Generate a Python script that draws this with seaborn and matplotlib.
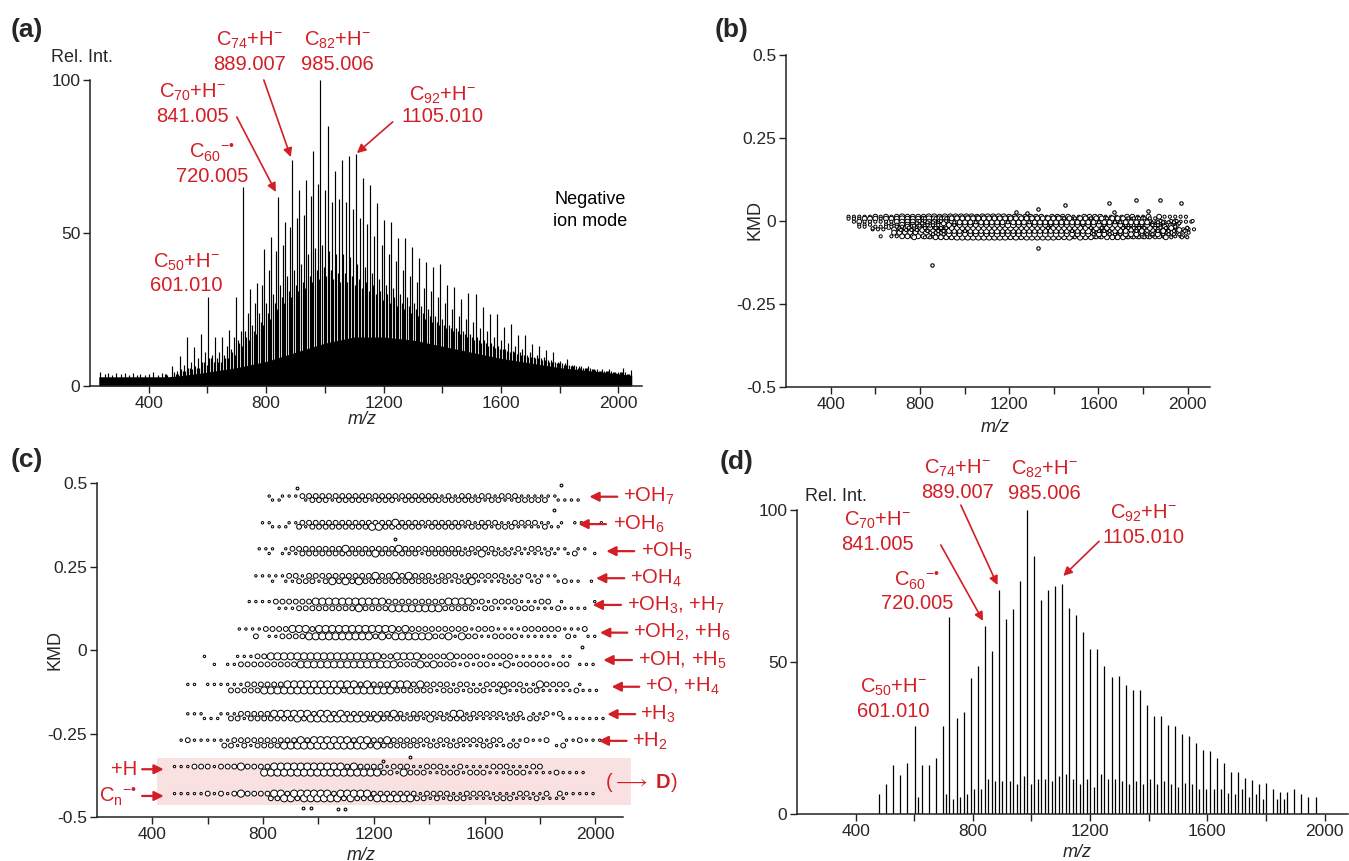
import matplotlib
matplotlib.use("Agg")
import matplotlib.pyplot as plt
from matplotlib.patches import Rectangle
import pandas as pd
import seaborn as sns

RED = "#d21f26"

# ---------------- spectrum (a) / (d) -----------------
# C_n+H- (and C60 radical at 720) peak positions, m/z
cn_mz = [457, 481, 505, 529, 553, 577, 601, 625, 649, 673, 697, 720, 745, 769, 793,
         817, 841, 865, 889, 913, 937, 961, 985, 1009, 1033, 1057, 1081, 1105, 1129,
         1153, 1177, 1201, 1225, 1249, 1273, 1297, 1321, 1345, 1369, 1393, 1417, 1441,
         1465, 1489, 1513, 1537, 1561, 1585, 1609, 1633, 1657, 1681, 1705, 1729, 1753,
         1777, 1801, 1825, 1849, 1873, 1897, 1921, 1945, 1969, 1993, 2017, 2041]
a_main_int = [4, 6.6, 9.9, 16, 12.8, 16.9, 29, 16, 16, 18.4, 29, 64.9, 31.6, 33.7, 44.8,
              48.8, 61.8, 53.7, 73.7, 64, 67.3, 76.8, 100, 84.9, 70.4, 73.7, 75, 75.8, 67.9,
              65.6, 59.7, 54.2, 53.5, 48.5, 48.5, 45.5, 41.7, 40.6, 39, 40, 32.9, 32.5,
              28.3, 30.3, 30, 25.7, 23.4, 23.4, 19.4, 20.1, 16.8, 16.8, 13.6, 13.2, 11.6,
              11, 8.3, 8.7, 7, 6.5, 6.5, 5.2, 5.7, 5.7, 4.1, 5.8, 5.2]

# oxygenated / hydrogenated neighbours in the full spectrum (a)
a_oxy_mz = [473, 497, 521, 545, 569, 593, 617, 641, 665, 689, 713, 737, 761, 785, 809,
            833, 857, 881, 905, 929, 953, 977, 1001, 1025, 1049, 1073, 1097, 1121, 1145,
            1169, 1193, 1217, 1241, 1265, 1289, 1313, 1337, 1361, 1385, 1409, 1433, 1457,
            1481, 1505, 1529, 1553, 1577, 1601, 1625, 1649, 1673, 1697, 1721, 1745, 1769,
            1793, 1817, 1841, 1865, 1889, 1913, 1937, 1961, 1985, 2009, 2033]
a_oxy_int = [3, 5, 7, 8, 9, 11, 10, 11, 13, 16, 18, 24, 27, 33, 38, 44, 46, 52, 55, 56,
             62, 66, 64, 60, 61, 60, 58, 55, 53, 49, 46, 43, 41, 38, 36, 34, 32, 31, 29, 27,
             25, 23, 22, 21, 19, 18, 16, 15, 14, 13, 12, 11, 10, 9.5, 8.5, 8, 7.5, 7, 6.5,
             6, 5.5, 5, 5, 4.5, 4.5, 4]
a_mid_mz = [469, 493, 517, 541, 565, 589, 613, 637, 661, 685, 709, 733, 757, 781, 805,
            829, 853, 877, 901, 925, 949, 973, 997, 1021, 1045, 1069, 1093, 1117, 1141,
            1165, 1189, 1213, 1237, 1261, 1285, 1309, 1333, 1357, 1381, 1405, 1429, 1453,
            1477, 1501, 1525, 1549, 1573, 1597, 1621, 1645, 1669, 1693, 1717, 1741, 1765,
            1789, 1813, 1837, 1861, 1885, 1909, 1933, 1957, 1981, 2005, 2029]
a_mid_int = [3, 4, 5, 6, 6, 8, 9, 8, 9, 11, 14, 16, 18, 21, 24, 27, 29, 31, 33, 34,
             36, 38, 39, 38, 37, 37, 36, 35, 34, 33, 31, 30, 29, 27, 26, 25, 24, 23, 21, 20,
             19, 18, 17, 16, 15, 14, 13, 12, 11.5, 11, 10, 9.5, 9, 8.5, 8, 7.5, 7, 6.5, 6,
             6, 5.5, 5, 5, 4.5, 4.5, 4]
a_h_mz = [463, 487, 511, 535, 559, 583, 607, 631, 655, 679, 703, 727, 751, 775, 799,
          823, 847, 871, 895, 919, 943, 967, 991, 1015, 1039, 1063, 1087, 1111, 1135,
          1159, 1183, 1207, 1231, 1255, 1279, 1303, 1327, 1351, 1375, 1399, 1423, 1447,
          1471, 1495, 1519, 1543, 1567, 1591, 1615, 1639, 1663, 1687, 1711, 1735, 1759,
          1783, 1807, 1831, 1855, 1879, 1903, 1927, 1951, 1975, 1999, 2023]
a_h_int = [3.5, 4.5, 5.5, 6, 6.5, 8, 9, 9, 10, 12, 15, 18, 20, 24, 27, 30, 33, 36, 38, 40,
           43, 45, 46, 44, 43, 43, 42, 40, 39, 37, 35, 33, 32, 30, 29, 27, 26, 25, 23, 22,
           20, 19, 18, 17, 16, 15, 14, 13, 12, 11.5, 11, 10, 9.5, 9, 8.5, 8, 7.5, 7, 6.5,
           6, 6, 5.5, 5, 5, 4.5, 4.5]
a_x_mz = [477, 501, 525, 549, 573, 597, 621, 645, 669, 693, 717, 741, 765, 789, 813,
          837, 861, 885, 909, 933, 957, 981, 1005, 1029, 1053, 1077, 1101, 1125, 1149,
          1173, 1197, 1221, 1245, 1269, 1293, 1317, 1341, 1365, 1389, 1413, 1437, 1461,
          1485, 1509, 1533, 1557, 1581, 1605, 1629, 1653, 1677, 1701, 1725, 1749, 1773,
          1797, 1821, 1845, 1869, 1893, 1917, 1941, 1965, 1989, 2013, 2037]
a_x_int = [3, 4, 5, 5.5, 6, 7, 8, 8, 9, 10, 13, 15, 17, 20, 22, 25, 27, 29, 31, 32,
           34, 35, 36, 35, 34, 34, 33, 32, 31, 30, 28, 27, 26, 25, 24, 23, 22, 21, 20, 19,
           18, 17, 16, 15, 14, 13, 12.5, 12, 11, 10.5, 10, 9.5, 9, 8.5, 8, 7.5, 7, 6.5, 6,
           6, 5.5, 5, 5, 4.5, 4.5, 4]
# low-mass noise spikes
a_noise_mz = [233, 250, 262, 275, 290, 305, 318, 332, 345, 360, 372, 388, 400, 415, 430,
              445, 458]
a_noise_int = [4.5, 3.8, 4.2, 3.6, 4.4, 3.9, 4.1, 3.7, 4.3, 3.6, 4.0, 3.5, 3.8, 4.6, 3.7,
               4.2, 3.9]
# dense unresolved background (envelope)
a_bg_mz = [230, 300, 400, 470, 520, 600, 700, 800, 900, 1000, 1100, 1200, 1300, 1400,
           1500, 1600, 1700, 1800, 1900, 2000, 2045]
a_bg_int = [3, 3, 3, 3, 3.5, 4.5, 6, 8, 11, 14, 16, 16, 15, 13, 11, 9, 7.5, 6, 5, 4, 3.5]

# filtered spectrum (d)
d_mz = cn_mz[1:64]
d_int = [6.6, 9.9, 16, 12.8, 16.9, 29, 16, 16, 18.4, 29, 64.9, 31.6, 33.7, 44.8, 48.8,
         61.8, 53.7, 73.7, 64, 67.3, 76.8, 100, 84.9, 70.4, 73.7, 75, 75.8, 67.9, 65.6,
         59.7, 54.3, 54.3, 48.7, 44.9, 45.5, 42.4, 40.8, 40.8, 35.9, 32.2, 32.2, 29.3, 29,
         26.3, 25.6, 23.2, 21, 20.8, 18.3, 16.9, 13.9, 13.9, 12, 11.2, 9.7, 10.3, 8.1,
         7.3, 7.3, 8.1, 6.5, 5.7, 5.7]
d_odd_mz = [613, 709, 733, 757, 781, 805, 829, 853, 877, 901, 925, 949, 973, 997, 1021,
            1045, 1069, 1093, 1117, 1141, 1165, 1189, 1213, 1237, 1261, 1285, 1309, 1333,
            1357, 1381, 1405, 1429, 1453, 1477, 1501, 1525, 1549, 1573, 1597, 1621, 1645,
            1669, 1693, 1717, 1741, 1765, 1789, 1837, 1861]
d_odd_int = [5.7, 6.6, 4.8, 5.7, 6.6, 8.1, 8.1, 11.4, 10.9, 10.9, 10.9, 9.8, 12.4, 9.8,
             11.4, 11.4, 10.9, 12.4, 13.2, 11.4, 9.8, 11.4, 9.0, 13.2, 11.4, 11.4, 10.9,
             9.8, 10.9, 9.8, 11.4, 9.8, 10.9, 9.8, 9.0, 10.3, 9.8, 8.1, 8.1, 8.1, 8.1, 6.8,
             6.5, 8.1, 5.7, 6.5, 4.8, 4.8, 4.8]

# ---------------- KMD rows (b) / (c) -----------------
# rows from bottom to top; one code per 12 Da from c_start
# ' ' none, '.' weak, 'o' medium, 'O' strong
c_kmd = [-0.437, -0.358, -0.278, -0.198, -0.112, -0.031, 0.052, 0.135, 0.214, 0.296, 0.375, 0.455]
c_split = [0.007, 0.009, 0.008, 0.007, 0.009, 0.012, 0.011, 0.010, 0.008, 0.007, 0.006, 0.006]
c_start = [480, 480, 504, 528, 528, 588, 714, 750, 774, 786, 798, 822]
b_kmd = [0.006, -0.002, -0.010, -0.018, -0.026, -0.034, -0.038, -0.030, -0.022, -0.014, -0.006, 0.002]
c_codes = [
    ". . . . . o . o . o O o o o ooOoOOoOOoOOOOOOOOOOoOOoOOOoOoOooOoOoOoOoOoOoo.oo.oo"
    "o.oo.o.oo.o.o.o..o.o.o..o.o..o..o. .o.. . . . . ",
    ". . . o o o . o o o O o o oOoOOOOOOOOOOOOOOOOOOOOOOOoOOOoOoOoOoo.oo.oOoo.o.oo.o."
    "oo.o.oo..o.o.o..o.o.oo.o.o..o.o. . o . . . .",
    ". o . . . . .o.oo.ooo.oooooooooOoOoOOOoOOOOOOOOOOOOOoOOOOooOooOoooooooooo.oo.oo.o"
    "o.oo.o.o.oo.oo.o. o.o. o . . o  . o. . o . . .",
    ". . .. . .. .o.oo.ooooooooOoOoOoOOOoOOoOOOOOoOOOoOoOoOoooOooooOooo.oooo.oOo.oo.oO"
    "oOo.oo.o.o.o.o..o.oo. o.o..o . o. . . . . . .",
    ". .   . . . .o.o.ooooooOoOoOoOOOOOOOOOOOOOOOOOOoOOOOoOOOoOoOoOOoOoOoooOoooo.oooo."
    "oo.oo.o.oo.o.oOo.o.oo.o.oO.o.o.o.o. o.. . .",
    ".  .   . ..o.o.oooooOoOoOoOoOOOOOOOOOOOOOOOOOOOOOOOOOOoOoOOoOoOoOOoooOooooOoo.ooo"
    ".oo.oo.o.oOo..o.o.o.o.o.. o.o.  . . .",
    ". . .o. o.o.ooooOoOoOOoOOOOOOOOOOOOOOOOOOoOOOoOOoOOOoOoOoOoooooOo.oOoo.oo.o.oo.o."
    "o.o..o.o.o.o.o.o .o... o. . ",
    ". . . . o.o.o.ooooooOoOoOoOoOoOoOOOoOoOoOooOoOoOoOoOoOoOoOooOoOoOoOoo.oo.oo.o.o."
    "oo.o.o..o.o. o.. . . .  .",
    ". . ... ..o.oo.oooo.oooOoooOoooOooooOoooooOoooOooooooo.oooo.oo.ooOo.o.o.o.oo.o.o."
    " o..o. . .. o . .   .",
    ". ...  ...o.ooooooooooooooOooooooooOooooooOoooooo.oooooooooooo.oo.oOo.oo.o.o..o.."
    ".o.o..o... .. o. .  .",
    ". .. . .. .oo.oooooooooooooooooooOoOooooOoooooooo.ooooooooooo.oo.oooo.oo.o.oo.o.o"
    ".o..o.. ..   . .     .",
    ".. .. . . o.ooooooo.ooooooooooo.ooooooo.oooooooooooo.ooo.ooooo.oo.oo.oo.o.oo.o.o."
    "o.o. .. . . .",
]
# isolated points in (c) and (b)
c_extra_mz = [923, 1278, 1852, 1876, 1953, 1233, 1330, 944, 973, 1069, 1096]
c_extra_kmd = [0.485, 0.332, 0.42, 0.493, 0.009, -0.331, -0.32, -0.473, -0.473, -0.475, -0.475]
b_extra_mz = [853, 1330, 1330, 1450, 1649, 1766, 1876, 1969, 1232, 1278, 1670, 1822]
b_extra_kmd = [-0.133, -0.082, 0.035, 0.048, 0.053, 0.063, 0.064, 0.053, 0.028, 0.025, 0.028, 0.03]

c_labels = ["+OH$_{7}$", "+OH$_{6}$", "+OH$_{5}$", "+OH$_{4}$", "+OH$_{3}$, +H$_{7}$",
            "+OH$_{2}$, +H$_{6}$", "+OH, +H$_{5}$", "+O, +H$_{4}$", "+H$_{3}$", "+H$_{2}$"]

# ---------------- style -----------------
sns.set_theme(style="ticks")
plt.rcParams["font.family"] = ["Liberation Sans", "DejaVu Sans"]
plt.rcParams["mathtext.fontset"] = "custom"
plt.rcParams["mathtext.rm"] = "Liberation Sans"
plt.rcParams["mathtext.it"] = "Liberation Sans:italic"
plt.rcParams["mathtext.bf"] = "Liberation Sans:bold"
plt.rcParams["mathtext.default"] = "rm"
TICK_SIZE = 12.5

# build ion table
rows = []
for r, codes in enumerate(c_codes):
    for i, ch in enumerate(codes):
        if ch == " ":
            continue
        side = 1 if i % 2 == 0 else -1
        rows.append((c_start[r] + 12 * i, c_kmd[r] + side * c_split[r],
                     b_kmd[r] + side * c_split[r], ch))
ions = pd.DataFrame(rows, columns=["mz", "kmd_c", "kmd_b", "code"])


def style_axis(ax, xlim, ylim, yticks, ylabels):
    ax.set_xlim(*xlim)
    ax.set_ylim(*ylim)
    ax.set_xticks([400, 800, 1200, 1600, 2000])
    ax.set_xticks([600, 1000, 1400, 1800], minor=True)
    ax.set_yticks(yticks)
    ax.set_yticklabels(ylabels)
    for s in ["top", "right"]:
        ax.spines[s].set_visible(False)
    for s in ["left", "bottom"]:
        ax.spines[s].set_linewidth(1.1)
        ax.spines[s].set_color("#222222")
    ax.tick_params(which="both", direction="out", length=5, width=1, color="#222222",
                   labelsize=TICK_SIZE, pad=2)
    ax.set_xlabel("")
    ax.set_ylabel("")
    ax.patch.set_alpha(0)


def two_line(ax, x, y1, y2, top, bottom, size=14.5, color=RED):
    ax.text(x, y1, top, color=color, ha="center", va="center", fontsize=size)
    ax.text(x, y2, bottom, color=color, ha="center", va="center", fontsize=size)


def arrow(ax, tail, head, lw=1.2, ms=13):
    ax.annotate("", xy=head, xytext=tail, annotation_clip=False,
                arrowprops=dict(arrowstyle="-|>", color=RED, lw=lw, shrinkA=0, shrinkB=0,
                                mutation_scale=ms))


fig = plt.figure(figsize=(13.49, 8.61), dpi=100)
ax_a = fig.add_axes([0.0667, 0.5517, 0.4092, 0.3554])
ax_b = fig.add_axes([0.5827, 0.5505, 0.3143, 0.3856])
ax_c = fig.add_axes([0.0719, 0.0511, 0.3899, 0.3879])
ax_d = fig.add_axes([0.5908, 0.0546, 0.4085, 0.3531])

# ---- (a) full spectrum
ax_a.fill_between(a_bg_mz, 0, a_bg_int, color="black", lw=0)
for mz, inten in [(a_noise_mz, a_noise_int), (a_h_mz, a_h_int), (a_x_mz, a_x_int),
                  (a_mid_mz, a_mid_int), (a_oxy_mz, a_oxy_int), (cn_mz, a_main_int)]:
    ax_a.vlines(mz, 0, inten, color="black", lw=0.85)
style_axis(ax_a, (200, 2080), (0, 100), [0, 50, 100], ["0", "50", "100"])

two_line(ax_a, 744, 113, 105.2, "C$_{74}$+H$^{-}$", "889.007")
two_line(ax_a, 1044, 113, 105.2, "C$_{82}$+H$^{-}$", "985.006")
two_line(ax_a, 550, 96.1, 88.2, "C$_{70}$+H$^{-}$", "841.005")
two_line(ax_a, 615, 76.5, 68.6, "C$_{60}$$^{-\u2022}$", "720.005")
two_line(ax_a, 1402, 95.1, 88.2, "C$_{92}$+H$^{-}$", "1105.010")
two_line(ax_a, 529, 40.5, 32.7, "C$_{50}$+H$^{-}$", "601.010")
two_line(ax_a, 1903, 60.8, 53.6, "Negative", "ion mode", size=13, color="black")
arrow(ax_a, (792, 100), (884, 74.8))
arrow(ax_a, (700, 87.9), (833, 63.4))
arrow(ax_a, (1231, 86.3), (1109, 76.1))
ax_a.text(172, 107.5, "Rel. Int.", ha="center", va="center", fontsize=13)
ax_a.text(0.493, -0.111, "m/z", transform=ax_a.transAxes, ha="center", va="center",
          fontsize=13, style="italic")

# ---- (b) KMD, standard base
sns.scatterplot(data=ions, x="mz", y="kmd_b", size="code",
                sizes={".": 5, "o": 12, "O": 16}, marker="o", facecolor="white",
                edgecolor="black", linewidth=0.7, legend=False, ax=ax_b, zorder=3)
ax_b.scatter(b_extra_mz, b_extra_kmd, s=6, facecolor="white", edgecolor="black",
             linewidth=0.8, zorder=3)
style_axis(ax_b, (200, 2100), (-0.5, 0.5), [-0.5, -0.25, 0, 0.25, 0.5],
           ["-0.5", "-0.25", "0", "0.25", "0.5"])
ax_b.text(-0.073, 0.503, "KMD", transform=ax_b.transAxes, ha="center", va="center",
          rotation=90, fontsize=13)
ax_b.text(0.493, -0.123, "m/z", transform=ax_b.transAxes, ha="center", va="center",
          fontsize=13, style="italic")

# ---- (c) KMD, fractional base
ax_c.add_patch(Rectangle((417, -0.464), 1713, 0.14, facecolor="#f9e1e1",
                         edgecolor="none", zorder=0.5, clip_on=False))
sns.scatterplot(data=ions, x="mz", y="kmd_c", size="code",
                sizes={".": 3, "o": 12, "O": 26}, marker="o", facecolor="white",
                edgecolor="black", linewidth=0.7, legend=False, ax=ax_c, zorder=3)
ax_c.scatter(c_extra_mz, c_extra_kmd, s=4, facecolor="white", edgecolor="black",
             linewidth=0.8, zorder=3)
style_axis(ax_c, (200, 2100), (-0.5, 0.5), [-0.5, -0.25, 0, 0.25, 0.5],
           ["-0.5", "-0.25", "0", "0.25", "0.5"])
ax_c.text(-0.08, 0.5, "KMD", transform=ax_c.transAxes, ha="center", va="center",
          rotation=90, fontsize=13)
ax_c.text(0.502, -0.114, "m/z", transform=ax_c.transAxes, ha="center", va="center",
          fontsize=13, style="italic")

arr_tail = [2079.5, 2038.7, 2140.7, 2104.7, 2092.8, 2115.5, 2132.5, 2158.8, 2144.4, 2113.0]
arr_head = [1978.6, 1938.9, 2039.8, 2002.7, 1990.5, 2017.1, 2029.0, 2059.0, 2043.4, 2012.1]
arr_y = [0.459, 0.377, 0.296, 0.215, 0.135, 0.052, -0.030, -0.110, -0.192, -0.272]
arr_text = [2101.1, 2063.0, 2164.9, 2126.3, 2113.3, 2137.1, 2152.6, 2180.4, 2161.3, 2132.5]
for tail, head, y, tx, lab in zip(arr_tail, arr_head, arr_y, arr_text, c_labels):
    arrow(ax_c, (tail, y), (head, y), lw=1.6, ms=14)
    ax_c.text(tx, y, lab, color=RED, ha="left", va="center", fontsize=14.5)
arrow(ax_c, (363, -0.357), (441, -0.357), lw=1.6, ms=14)
arrow(ax_c, (363, -0.437), (441, -0.437), lw=1.6, ms=14)
ax_c.text(345, -0.357, "+H", color=RED, ha="right", va="center", fontsize=14.5)
ax_c.text(345, -0.437, "C$_{n}$$^{-\u2022}$", color=RED, ha="right", va="center", fontsize=14.5)
ax_c.text(2166, -0.398, r"($\longrightarrow$ $\mathbf{D}$)", color=RED, ha="center",
          va="center", fontsize=14.5)

# ---- (d) filtered spectrum
ax_d.vlines(d_odd_mz, 0, d_odd_int, color="black", lw=0.9)
ax_d.vlines(d_mz, 0, d_int, color="black", lw=0.9)
style_axis(ax_d, (200, 2080), (0, 100), [0, 50, 100], ["0", "50", "100"])
two_line(ax_d, 746, 113.8, 105.9, "C$_{74}$+H$^{-}$", "889.007")
two_line(ax_d, 1044, 113.2, 105.3, "C$_{82}$+H$^{-}$", "985.006")
two_line(ax_d, 1383, 99, 90.8, "C$_{92}$+H$^{-}$", "1105.010")
two_line(ax_d, 475, 96.7, 88.8, "C$_{70}$+H$^{-}$", "841.005")
two_line(ax_d, 610, 77, 69.1, "C$_{60}$$^{-\u2022}$", "720.005")
two_line(ax_d, 529, 41.8, 33.6, "C$_{50}$+H$^{-}$", "601.010")
arrow(ax_d, (759, 101.6), (884, 75.3))
arrow(ax_d, (690.5, 88.5), (835, 63.5))
arrow(ax_d, (1230.5, 89.7), (1108.5, 78.3))
ax_d.text(332, 104.3, "Rel. Int.", ha="center", va="center", fontsize=13)
ax_d.text(0.508, -0.128, "m/z", transform=ax_d.transAxes, ha="center", va="center",
          fontsize=13, style="italic")

for lab, x, y in [("(a)", 27, 30), ("(b)", 732, 30), ("(c)", 27, 460), ("(d)", 737, 462)]:
    fig.text(x / 1349, 1 - y / 861, lab, ha="center", va="center", fontsize=19,
             fontweight="bold")

fig.savefig("out.png", dpi=100)
